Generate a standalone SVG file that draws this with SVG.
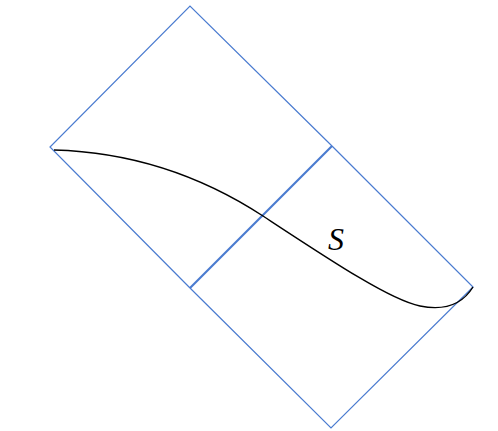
<svg xmlns="http://www.w3.org/2000/svg" width="498" height="431" viewBox="0 0 498 431">
<style>
.edge{fill:none;stroke:#4a7bd0;stroke-width:1.2;stroke-linejoin:miter}
.mid{fill:none;stroke:#4a7bd0;stroke-width:2.2}
.curve{fill:none;stroke:#000;stroke-width:1.4}
.lbl{font-family:"Liberation Serif","DejaVu Serif",serif;font-style:italic;font-size:32px;fill:#000}
</style>
<rect width="498" height="431" fill="#fff"/>
<g id="square-upper">
<polyline class="edge" points="332,146 190,6 50,147 190,288"/>
</g>
<g id="square-lower">
<polyline class="edge" points="332,146 473,287 331,428 190,288"/>
</g>
<g id="connectors">
<line class="mid" x1="190" y1="288" x2="332" y2="146"/>
<path class="curve" d="M54,150 C130,152 200,175 263,216 C330,260 390,300 420,306 C450,312 465,300 473,287"/>
</g>
<g id="label-S">
<text class="lbl" x="336" y="250" text-anchor="middle">S</text>
</g>
</svg>
